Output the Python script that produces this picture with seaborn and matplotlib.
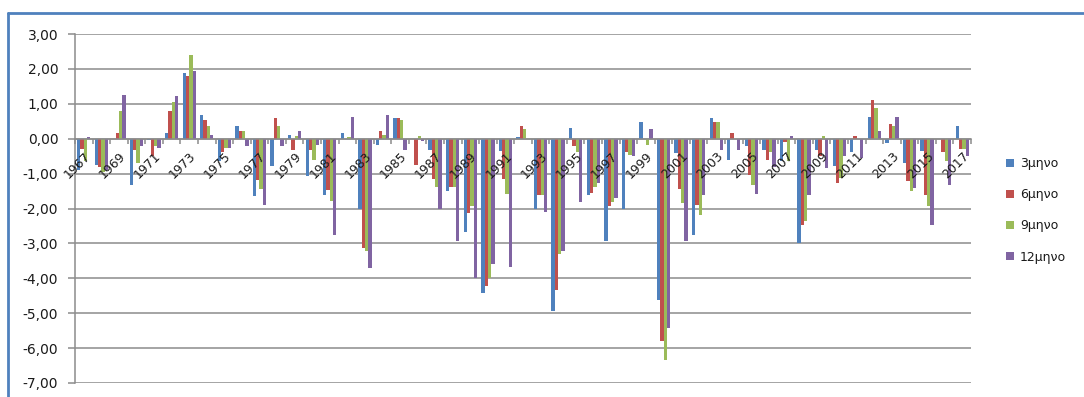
import numpy as np
import pandas as pd
import matplotlib
matplotlib.use("Agg")
import matplotlib.pyplot as plt
from matplotlib.lines import Line2D
from matplotlib.ticker import FixedLocator, FuncFormatter
import seaborn as sns

# Years on the category axis
years = list(range(1967, 2018))

# Series values per year
m3 = [-0.90, -0.75, 0.00, -1.32, -0.05, 0.16, 1.88, 0.69, -0.65, 0.37,
      -1.65, -0.79, 0.11, -1.06, -1.62, 0.16, -2.02, -0.17, 0.58, 0.00,
      -0.33, -1.51, -2.66, -4.42, -0.36, 0.05, -2.00, -4.95, 0.32, -1.62,
      -2.92, -2.02, 0.48, -4.61, -0.41, -2.77, 0.58, -0.60, -0.22, -0.33,
      -0.65, -2.99, -0.33, -0.79, -0.39, 0.62, -0.12, -0.70, -0.36, -0.02,
      0.37]
m6 = [-0.30, -0.80, 0.16, -0.33, -0.50, 0.78, 1.80, 0.54, -0.39, 0.21,
      -1.19, 0.59, -0.33, -0.33, -1.46, 0.00, -3.13, 0.21, 0.58, -0.75,
      -1.15, -1.37, -2.13, -4.21, -1.15, 0.37, -1.62, -4.33, -0.20, -1.57,
      -1.94, -0.37, 0.00, -5.81, -1.43, -1.89, 0.47, 0.16, -1.05, -0.60,
      -0.10, -2.46, -0.50, -1.27, 0.07, 1.10, 0.42, -1.22, -1.62, -0.39,
      -0.29]
m9 = [-0.65, -0.95, 0.78, -0.70, -0.22, 1.04, 2.41, 0.37, -0.27, 0.21,
      -1.44, 0.37, 0.07, -0.60, -1.78, 0.05, -3.23, 0.11, 0.54, 0.07,
      -1.37, -1.38, -1.94, -3.99, -1.58, 0.28, -1.62, -3.30, -0.37, -1.37,
      -1.80, -0.47, -0.17, -6.33, -1.84, -2.20, 0.47, 0.00, -1.32, -0.39,
      -0.65, -2.37, 0.07, -1.13, 0.00, 0.88, 0.37, -1.49, -1.94, -0.65,
      -0.29]
m12 = [0.05, -0.90, 1.26, -0.22, -0.27, 1.21, 1.93, 0.11, -0.27, -0.22,
       -1.89, -0.22, 0.23, -0.17, -2.77, 0.62, -3.70, 0.69, -0.33, -0.08,
       -2.02, -2.92, -3.99, -3.59, -3.69, 0.00, -2.10, -3.23, -1.82, -1.27,
       -1.70, -0.50, 0.28, -5.41, -2.92, -1.62, -0.33, -0.33, -1.58, -0.80,
       0.07, -1.62, -0.84, -0.50, -0.54, 0.21, 0.62, -1.41, -2.46, -1.32,
       -0.49]

series_names = ["3μηνο", "6μηνο", "9μηνο", "12μηνο"]
series_colors = ["#4F81BD", "#C0504D", "#9BBB59", "#8064A2"]
y_ticks = [3, 2, 1, 0, -1, -2, -3, -4, -5, -6, -7]

year_labels = [str(y) for y in years]
frames = []
for name, vals in zip(series_names, [m3, m6, m9, m12]):
    frames.append(pd.DataFrame({"year": year_labels, "series": name, "value": vals}))
df = pd.concat(frames, ignore_index=True)

sns.set_theme(style="white")
plt.rcParams["font.family"] = ["DejaVu Sans"]

W, H = 1084, 397
fig = plt.figure(figsize=(W / 100, H / 100), dpi=100)
ax = fig.add_axes([75 / W, 1 - 383 / H, (971 - 75) / W, (383 - 34) / H])

sns.barplot(data=df, x="year", y="value", hue="series", order=year_labels,
            hue_order=series_names, palette=series_colors, saturation=1,
            width=0.76, gap=0, errorbar=None, ax=ax, linewidth=0, legend=True)

grid_col = "#8C8C8C"
ax.set_ylim(-7, 3)
ax.set_xlim(-0.5, len(years) - 0.5)
ax.set_yticks(y_ticks)
ax.yaxis.set_major_formatter(FuncFormatter(lambda v, p: f"{v:.2f}".replace(".", ",")))
ax.grid(axis="y", color=grid_col, linewidth=1.1)
ax.grid(axis="x", visible=False)
ax.set_axisbelow(True)
# year labels sit on top of the bars
ax.xaxis.set_zorder(4)

for s in ["top", "right"]:
    ax.spines[s].set_visible(False)
ax.spines["left"].set_color(grid_col)
ax.spines["left"].set_linewidth(1.1)
ax.spines["bottom"].set_position(("data", 0))
ax.spines["bottom"].set_color(grid_col)
ax.spines["bottom"].set_linewidth(1.1)
ax.spines["bottom"].set_zorder(3)

ax.tick_params(axis="y", which="major", direction="out", length=5, width=1.1,
               color=grid_col, pad=7, labelsize=10, labelcolor="#1a1a1a", left=True)

# Category labels every second year, tick marks between categories
ax.set_xticks(range(0, len(years), 2))
ax.set_xticklabels(year_labels[::2], rotation=45, ha="right", va="top",
                   rotation_mode="anchor", fontsize=9, color="#1a1a1a")
ax.xaxis.set_minor_locator(FixedLocator(np.arange(-0.5, len(years), 1)))
ax.tick_params(axis="x", which="major", length=0, pad=8, bottom=True)
ax.tick_params(axis="x", which="minor", direction="out", length=3.5, width=1.1,
               color=grid_col, bottom=True)
ax.set_xlabel("")
ax.set_ylabel("")

handles, labels = ax.get_legend_handles_labels()
ax.get_legend().remove()
fig.legend(handles, labels, loc="upper left",
           bbox_to_anchor=(995 / W, 1 - 146 / H), frameon=False,
           fontsize=9, handlelength=0.65, handleheight=0.65,
           handletextpad=0.45, labelspacing=1.45, labelcolor="#1a1a1a")

# Chart frame
fig.add_artist(Line2D([8 / W, 8 / W], [0, 1 - 13 / H], color="#4F81BD", linewidth=2))
fig.add_artist(Line2D([8 / W, 1], [1 - 13 / H, 1 - 13 / H], color="#4F81BD", linewidth=2))

fig.savefig("out.png", dpi=100)
